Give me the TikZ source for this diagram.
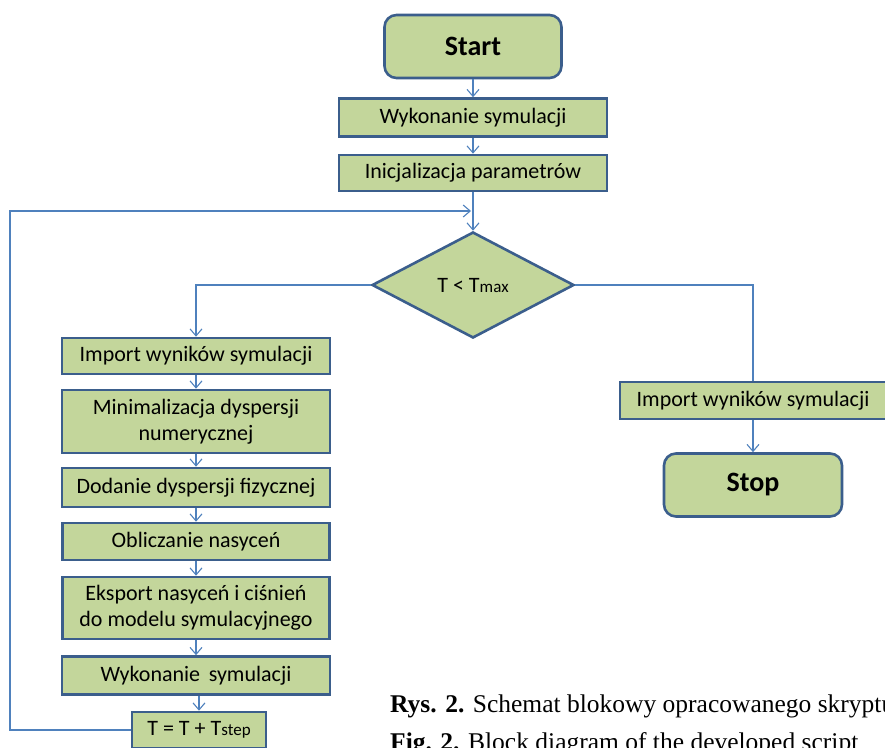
\documentclass[tikz,border=0pt]{standalone}
\usepackage{fontspec}
\setmainfont{Carlito}
\newfontfamily\capfont{Liberation Serif}
\usetikzlibrary{shapes.geometric,arrows.meta}
\definecolor{boxfill}{HTML}{C3D69B}
\definecolor{boxline}{HTML}{3B5E8C}
\definecolor{conn}{HTML}{4F81BD}
\begin{document}
\begin{tikzpicture}[x=1pt,y=-1pt,
  blk/.style={draw=boxline,fill=boxfill,line width=2.6pt,inner sep=0pt,align=center,
    font=\fontsize{22}{26}\selectfont},
  term/.style={blk,rounded corners=12pt,font=\fontsize{28}{30}\selectfont\bfseries},
  dec/.style={blk,diamond},
  link/.style={draw=conn,line width=1.2pt},
  arr/.style={link,-{Straight Barb[length=7pt,width=12pt,line width=1.1pt]}},
  captext/.style={anchor=base west,inner sep=0pt,font=\capfont\fontsize{25.5}{28}\selectfont}]
\useasboundingbox (0,0) rectangle (885,747);
\clip (0,0) rectangle (885,747);
\node[term,minimum width=177pt,minimum height=63pt] (start) at (473,46.5) {Start};
\node[blk,minimum width=268pt,minimum height=38pt] (wyk1) at (473,117.5) {Wykonanie symulacji};
\node[blk,minimum width=268pt,minimum height=36pt] (init) at (473,173) {Inicjalizacja parametrów};
\node[dec,minimum width=202pt,minimum height=106pt] (dec) at (473,285) {T < T{\fontsize{17}{18}\selectfont max}};
\node[blk,minimum width=268pt,minimum height=36pt] (imp1) at (196,356) {Import wyników symulacji};
\node[blk,minimum width=268pt,minimum height=63pt] (min) at (196,421.5) {Minimalizacja dyspersji\\numerycznej};
\node[blk,minimum width=268pt,minimum height=39pt] (dod) at (196,487.5) {Dodanie dyspersji fizycznej};
\node[blk,minimum width=267pt,minimum height=37pt] (obl) at (196,541.5) {Obliczanie nasyceń};
\node[blk,minimum width=267pt,minimum height=62pt] (eks) at (196,608) {Eksport nasyceń i ciśnień\\do modelu symulacyjnego};
\node[blk,minimum width=268pt,minimum height=38pt] (wyk2) at (196,675.5) {Wykonanie\, symulacji};
\node[blk,minimum width=134pt,minimum height=36pt] (tinc) at (199,730) {T = T + T{\fontsize{17}{18}\selectfont step}};
\node[blk,minimum width=266pt,minimum height=37pt] (imp2) at (753,400.5) {Import wyników symulacji};
\node[term,minimum width=178pt,minimum height=63pt] (stop) at (753,485) {Stop};
\coordinate (lc) at (10,211);
\coordinate (fbend) at (471,211);
\draw[arr] (start) -- (wyk1);
\draw[arr] (wyk1) -- (init);
\draw[arr] (init) -- (dec);
\draw[arr] (tinc.west) -| (lc) -- (fbend);
\draw[arr] (dec.west) -| (imp1.north);
\draw[link] (dec.east) -| (imp2.north);
\draw[arr] (imp2) -- (stop);
\draw[arr] (imp1) -- (min);
\draw[arr] (min) -- (dod);
\draw[arr] (dod) -- (obl);
\draw[arr] (obl) -- (eks);
\draw[arr] (eks) -- (wyk2);
\draw[arr] (tinc.north |- wyk2.south) -- (tinc.north);
\node[captext] (cap1) at (390,712) {\textbf{Rys. 2.} Schemat blokowy opracowanego skryptu};
\node[captext] (cap2) at (390,750) {\textbf{Fig. 2.} Block diagram of the developed script};
\end{tikzpicture}
\end{document}
